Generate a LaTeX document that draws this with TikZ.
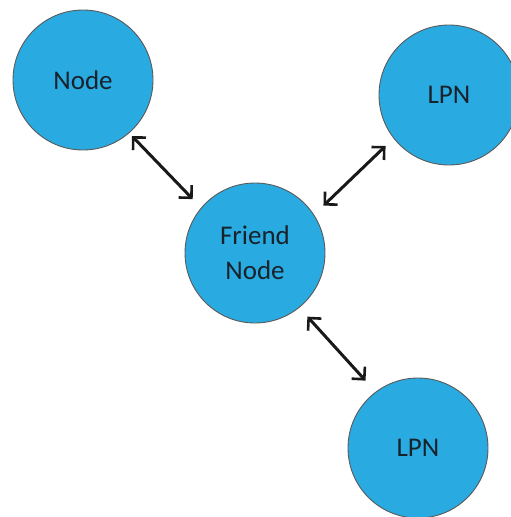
\documentclass[tikz,border=0pt]{standalone}
\usepackage{fontspec}
\setmainfont{Carlito}
\usetikzlibrary{arrows.meta}
\definecolor{nodeblue}{HTML}{29ABE2}
\definecolor{nodeborder}{HTML}{5A5A5A}
\definecolor{txt}{HTML}{18222A}
\begin{document}
\begin{tikzpicture}[x=1pt,y=-1pt,
  bubble/.style={circle,draw=nodeborder,line width=0.9pt,fill=nodeblue,minimum size=140pt,inner sep=0pt,
    text=txt,align=center,font=\fontsize{27}{35}\selectfont},
  link/.style={line width=3pt,draw=black!90,{Straight Barb[length=9pt,width=18pt,line width=2.6pt]}-{Straight Barb[length=9pt,width=18pt,line width=2.6pt]}}]
\useasboundingbox (0,0) rectangle (511,517);
\node[bubble] (n1) at (83,80) {Node};
\node[bubble] (lpn1) at (449,95) {LPN};
\node[bubble] (fr) at (255,253) {Friend\\Node};
\node[bubble] (lpn2) at (418,448) {LPN};
\draw[link,shorten <=4pt,shorten >=12pt] (n1.-49) -- (fr.140);
\draw[link,shorten <=11pt,shorten >=13pt] (lpn1.218) -- (fr.33);
\draw[link,shorten <=12pt,shorten >=15pt] (fr.-51) -- (lpn2.127);
\end{tikzpicture}
\end{document}
